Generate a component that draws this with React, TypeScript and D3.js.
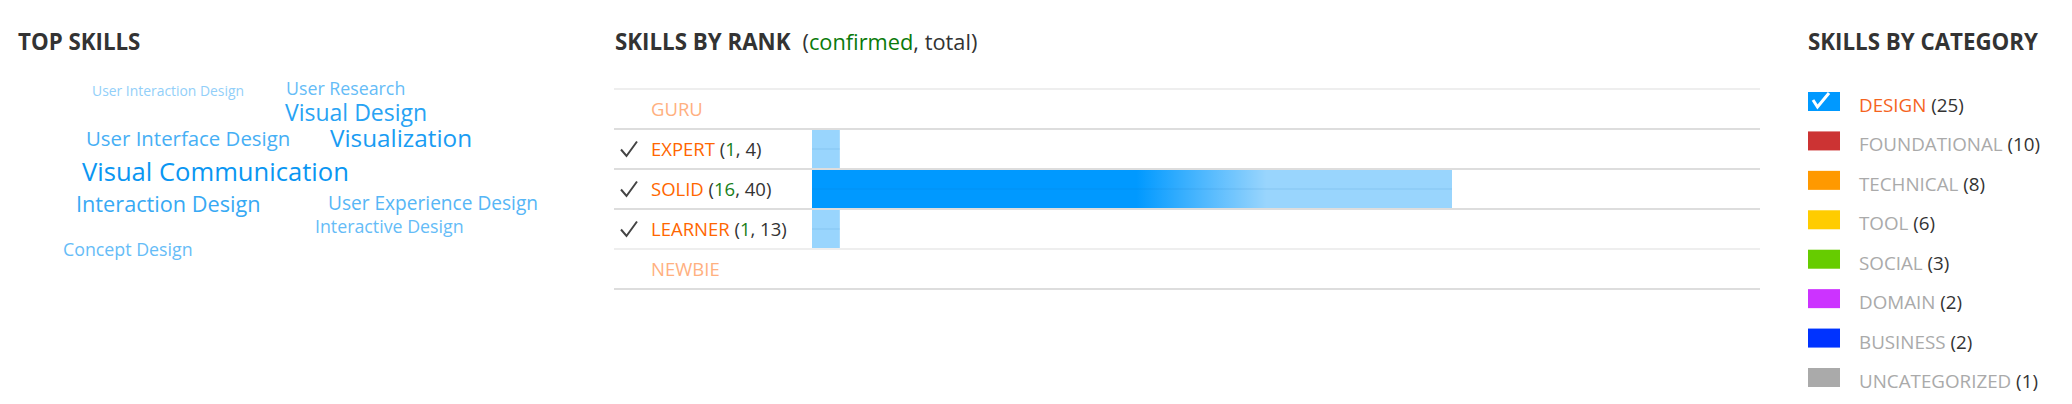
import React from "react";
import * as d3 from "d3";

// ---------- data ----------
const skills = [
  "User Interaction Design",
  "User Research",
  "Visual Design",
  "User Interface Design",
  "Visualization",
  "Visual Communication",
  "Interaction Design",
  "User Experience Design",
  "Interactive Design",
  "Concept Design",
];
const skillWeights = [1, 4, 8, 6, 9, 10, 7, 5, 4, 4];

const ranks = ["GURU", "EXPERT", "SOLID", "LEARNER", "NEWBIE"];
const rankConfirmed = [0, 1, 16, 1, 0];
const rankTotal = [0, 4, 40, 13, 0];
const rankDesign = [0, 1, 23, 1, 0];
const rankDesignConfirmed = [0, 0, 14, 0, 0];

const categories = [
  "DESIGN",
  "FOUNDATIONAL",
  "TECHNICAL",
  "TOOL",
  "SOCIAL",
  "DOMAIN",
  "BUSINESS",
  "UNCATEGORIZED",
];
const categoryCounts = [25, 10, 8, 6, 3, 2, 2, 1];
const categoryColors = [
  "#0099ff",
  "#cc3333",
  "#ff9900",
  "#ffcc00",
  "#66cc00",
  "#cc33ff",
  "#0033ff",
  "#aaaaaa",
];
const selectedCategory = "DESIGN";

// ---------- layout (word cloud placement, left/baseline) ----------
const wordLayout = [
  [92, 96],
  [286, 95],
  [285, 121],
  [86, 146],
  [330, 147],
  [82, 181],
  [76, 212],
  [328, 210],
  [315, 233],
  [63, 256],
];

const FONT = "'Open Sans', 'Noto Sans', sans-serif";
const W = 2072;
const H = 404;

export default function App() {
  // word cloud scales
  const wExt = d3.extent(skillWeights) as [number, number];
  const sizeScale = d3.scaleLinear().domain(wExt).range([13.9, 25.6]);
  const colorScale = d3
    .scaleLinear<string>()
    .domain(wExt)
    .range(["#92cff9", "#0a96f2"])
    .interpolate(d3.interpolateRgb);

  // rank chart scales
  const y = d3.scaleBand().domain(ranks).range([89, 289]).padding(0);
  const barX0 = 812;
  const x = d3
    .scaleLinear()
    .domain([0, d3.max(rankDesign) as number])
    .range([0, 640]);
  const lineX0 = 614;
  const lineX1 = 1760;
  const lineYs = [...ranks.map((r) => y(r) as number), 289];
  const lineColors = ["#eeeeee", "#dddddd", "#dddddd", "#dddddd", "#eeeeee", "#dddddd"];

  // legend scale
  const ly = d3.scalePoint().domain(categories).range([92, 368]);

  return (
    <svg
      width={W}
      height={H}
      style={{ position: "absolute", left: 0, top: 0, display: "block", background: "#fff" }}
      fontFamily={FONT}
    >
      <defs>
        {ranks.map((r, i) => {
          const xc = barX0 + x(rankDesignConfirmed[i]);
          return (
            <linearGradient
              key={r}
              id={`grad-${r}`}
              gradientUnits="userSpaceOnUse"
              x1={xc - 65}
              x2={xc + 65}
              y1={0}
              y2={0}
            >
              <stop offset="0" stopColor="#0099ff" stopOpacity={1} />
              <stop offset="1" stopColor="#0099ff" stopOpacity={0} />
            </linearGradient>
          );
        })}
      </defs>

      {/* ---------- TOP SKILLS ---------- */}
      <text x={18} y={50} fontSize={22.3} fontWeight={700} fill="#333">
        TOP SKILLS
      </text>
      {skills.map((s, i) => (
        <text
          key={s}
          x={wordLayout[i][0]}
          y={wordLayout[i][1]}
          fontSize={sizeScale(skillWeights[i])}
          fill={colorScale(skillWeights[i])}
        >
          {s}
        </text>
      ))}

      {/* ---------- SKILLS BY RANK ---------- */}
      <text x={615} y={50} fontSize={22.3} fill="#333">
        <tspan fontWeight={700}>SKILLS BY RANK</tspan>
        <tspan dx={12} fontSize={21.8}>(</tspan>
        <tspan fontSize={21.8} fill="#0a7a0a">confirmed</tspan>
        <tspan fontSize={21.8}>, total)</tspan>
      </text>

      {ranks.map((r, i) => {
        const top = (y(r) as number) + 1;
        const h = y.bandwidth() - 2;
        const w = x(rankDesign[i]);
        const xc = x(rankDesignConfirmed[i]);
        if (w <= 0) return null;
        return (
          <g key={r}>
            <rect x={barX0} y={top} width={w} height={h} fill="#99d5fd" />
            {rankDesignConfirmed[i] > 0 && (
              <rect
                x={barX0}
                y={top}
                width={Math.min(w, xc + 65)}
                height={h}
                fill={`url(#grad-${r})`}
              />
            )}
            <rect
              x={barX0}
              y={top + h / 2 - 1}
              width={w}
              height={2}
              fill="#0a6ab0"
              opacity={0.07}
            />
          </g>
        );
      })}

      {lineYs.map((ly0, i) => (
        <rect
          key={i}
          x={lineX0}
          y={ly0 - 1}
          width={lineX1 - lineX0}
          height={2}
          fill={lineColors[i]}
        />
      ))}

      {ranks.map((r, i) => {
        const base = (y(r) as number) + 27;
        const active = rankTotal[i] > 0;
        const cy = (y(r) as number) + y.bandwidth() / 2;
        return (
          <g key={r}>
            {active && (
              <path
                d={`M${621},${cy + 0.5} L${626.5},${cy + 7} L${637},${cy - 7.5}`}
                fill="none"
                stroke="#444"
                strokeWidth={2}
                strokeLinejoin="miter"
              />
            )}
            <text x={651} y={base} fontSize={18.5} fill={active ? "#ff6600" : "#ffb080"}>
              {r}
              {active && (
                <>
                  <tspan fill="#333">{" ("}</tspan>
                  <tspan fill="#1a7f1a">{rankConfirmed[i]}</tspan>
                  <tspan fill="#333">{`, ${rankTotal[i]})`}</tspan>
                </>
              )}
            </text>
          </g>
        );
      })}

      {/* ---------- SKILLS BY CATEGORY ---------- */}
      <text x={1808} y={50} fontSize={22.3} fontWeight={700} fill="#333">
        SKILLS BY CATEGORY
      </text>
      {categories.map((c, i) => {
        const top = ly(c) as number;
        const sel = c === selectedCategory;
        return (
          <g key={c}>
            <rect x={1808} y={top} width={32} height={19} fill={categoryColors[i]} />
            {sel && (
              <path
                d={`M${1813},${top + 8} L${1817.5},${top + 15} L${1829},${top + 1}`}
                fill="none"
                stroke="#fff"
                strokeWidth={3}
              />
            )}
            <text x={1859} y={top + 20} fontSize={18.8} fill={sel ? "#f5641e" : "#aaaaaa"}>
              {c}
              <tspan fill="#333">{` (${categoryCounts[i]})`}</tspan>
            </text>
          </g>
        );
      })}
    </svg>
  );
}
